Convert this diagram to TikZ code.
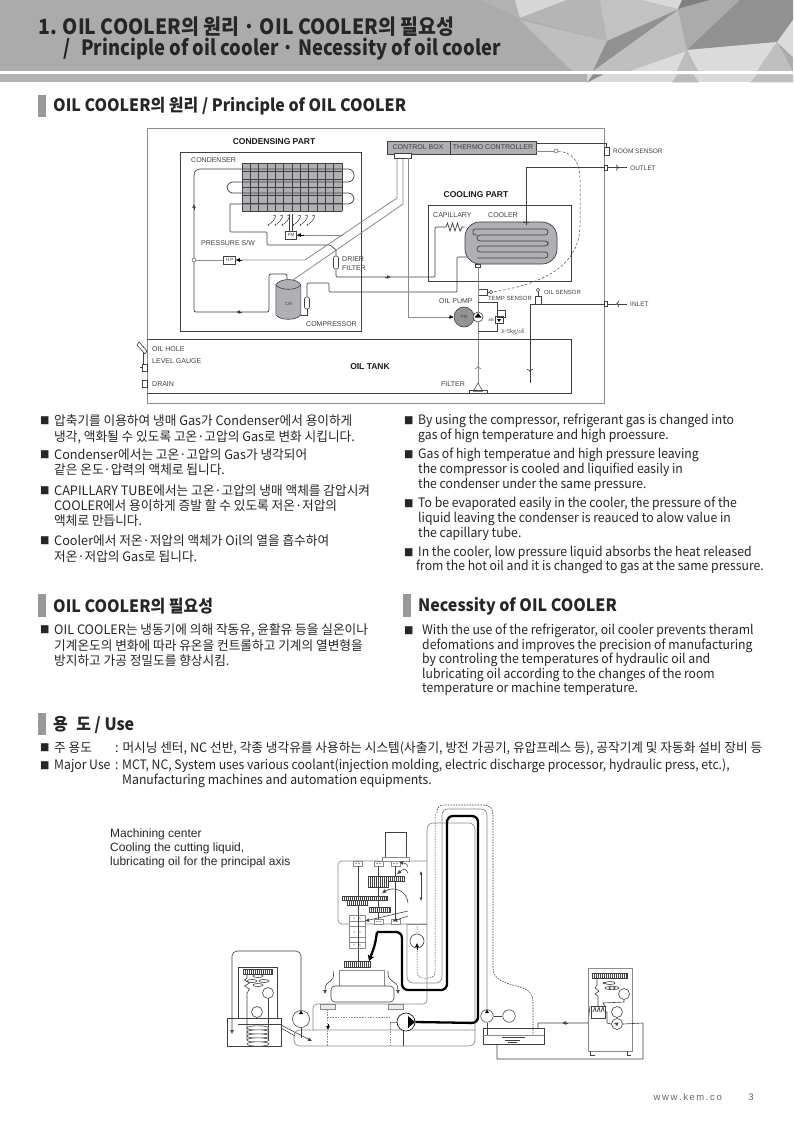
\documentclass[tikz,border=0pt]{standalone}
\usepackage{fontspec}
\setmainfont{Noto Sans CJK KR}[FakeStretch=0.94]
\newfontfamily\korfont{Noto Sans CJK KR}[FakeStretch=0.975]
\newfontfamily\headfont{Noto Sans CJK KR}[FakeStretch=0.94]
\newfontfamily\titlefont{Noto Sans CJK KR}[FakeStretch=0.925]
\newfontfamily\titlelatin{Noto Sans CJK KR}[FakeStretch=0.875]
\newfontfamily\labelfont{Liberation Sans}
\usepackage{tikz}
\usetikzlibrary{arrows.meta, shapes.geometric}

\definecolor{pipegray}{HTML}{8A8A8A}
\definecolor{linedark}{HTML}{404040}
\definecolor{fillgray}{HTML}{B0B0B4}

\tikzset{
    title/.style={font=\titlefont\bfseries\fontsize{21}{24}\selectfont, anchor=west, inner sep=0, text=black!85},
    title latin/.style={font=\titlelatin\bfseries\fontsize{21}{24}\selectfont, anchor=west, inner sep=0, text=black!85},
    head/.style={font=\headfont\bfseries\fontsize{17}{20}\selectfont, anchor=west, inner sep=0, text=black!85},
    body/.style={font=\fontsize{13}{15}\selectfont, anchor=west, inner sep=0, text=black!85},
    kbody/.style={font=\korfont\fontsize{13}{15}\selectfont, anchor=west, inner sep=0, text=black!85},
    bullet/.style={font=\fontsize{10}{12}\selectfont, anchor=west, inner sep=0, text=black!85},
    part/.style={font=\labelfont\bfseries\fontsize{8.5}{10}\selectfont, inner sep=0, text=black!90},
    lbl/.style={font=\labelfont\fontsize{7}{8}\selectfont, anchor=west, inner sep=0, text=linedark},
    tiny/.style={font=\labelfont\fontsize{4.5}{5}\selectfont, inner sep=0, text=linedark},
    bar/.style={fill=black!40, draw=none},
    pipe/.style={draw=linedark, line width=0.7pt},
    gline/.style={draw=pipegray, line width=0.8pt},
    part box/.style={draw=linedark, line width=0.7pt},
    tipfill/.style={-{Latex[length=4pt,width=4pt]}},
    tipopen/.style={-{To[length=3pt,width=6pt]}},
    dash line/.style={draw=linedark, dash pattern=on 2.5pt off 2pt, line width=0.5pt},
    gdash/.style={draw=pipegray, dash pattern=on 1.5pt off 1.2pt, line width=0.7pt},
    small box/.style={draw=linedark, fill=white, rectangle, inner sep=0, line width=0.6pt},
    fat/.style={draw=black, line width=2.3pt, rounded corners=6pt},
    mach/.style={draw=linedark, line width=0.6pt},
    mgray/.style={draw=pipegray, line width=0.7pt}
}

\newcommand{\finbar}[4]{%
    \draw[mach, fill=white] (#1,#2) rectangle (#3,#4);
    \pgfmathtruncatemacro{\fnext}{#1+2}
    \foreach \fx in {#1,\fnext,...,#3} \draw[mach, line width=0.4pt] (\fx,#2) -- (\fx,#4);
}
\newcommand{\bearing}[2]{%
    \draw[mgray, fill=white] (#1,#2) rectangle +(9,5);
    \fill[linedark] (#1+3,#2+2.5) circle (0.6);
    \fill[linedark] (#1+6,#2+2.5) circle (0.6);
}

\begin{document}
\begin{tikzpicture}[x=1pt, y=-1pt]
    \useasboundingbox (0,0) rectangle (793,1123);

    \fill[white] (0,0) rectangle (793,1123);
    \fill[black!33] (0,0) rectangle (793,71);
    \fill[black!30] (0,74.5) rectangle (587,82.5);
    \fill[black!15] (587,74.5) rectangle (793,82.5);
    \fill[black!27] (672,82.5) -- (677,74.5) -- (693,74.5) -- (699,82.5) -- cycle;
    \fill[black!25] (750,82.5) -- (757,74.5) -- (793,74.5) -- (793,82.5) -- cycle;
    \fill[black!45] (593,74.5) -- (587,82.5) -- (603,74.5) -- cycle;
    \fill[black!30] (480,0) -- (520,18) -- (515,0) -- cycle;
    \fill[black!16] (515,0) -- (520,18) -- (567,0) -- cycle;
    \fill[black!29] (520,18) -- (567,0) -- (600,0) -- (607,41) -- cycle;
    \fill[black!24] (600,0) -- (642,0) -- (678,9) -- (607,41) -- cycle;
    \fill[black!15] (642,0) -- (682,0) -- (678,9) -- cycle;
    \fill[black!50] (682,0) -- (710,0) -- (678,9) -- cycle;
    \fill[black!25] (520,20) -- (607,41) -- (593,71) -- (572,71) -- cycle;
    \fill[black!43] (607,41) -- (678,10) -- (593,71) -- cycle;
    \fill[black!25] (678,10) -- (687,50) -- (630,71) -- (593,71) -- cycle;
    \fill[black!14] (686,51) -- (630,71) -- (677,71) -- cycle;
    \fill[black!33] (678,9) -- (710,0) -- (740,0) -- (687,50) -- cycle;
    \fill[black!43] (740,0) -- (793,0) -- (793,20) -- (777,42) -- (687,50) -- cycle;
    \fill[black!14] (687,50) -- (777,42) -- (757,71) -- (698,71) -- cycle;
    \fill[black!26] (687,50) -- (698,71) -- (677,71) -- cycle;
    \fill[black!25] (777,42) -- (793,71) -- (757,71) -- cycle;
    \fill[black!14] (777,42) -- (793,20) -- (793,57) -- cycle;

    \node[title] (title1) at (38,27) {1. OIL COOLER의 원리 · OIL COOLER의 필요성};
    \node[title latin] (title2) at (63,49) {/};
    \node[title latin] (title3) at (81,49) {Principle of oil cooler · Necessity of oil cooler};

    \fill[bar] (38,95) rectangle (46,117);
    \node[head] (head1) at (53,106) {OIL COOLER의 원리 / Principle of OIL COOLER};

    \draw[draw=black!45, line width=0.7pt] (147,128) rectangle (604,403);

    \node[part] (condpart) at (274,142) {CONDENSING PART};
    \draw[part box] (180,152) rectangle (361,331);
    \node[lbl] (condlabel) at (191,160) {CONDENSER};
    \fill[fillgray] (242,163) rectangle (342,211);
    \foreach \gx in {0,...,12} \draw[linedark, line width=0.6pt] (242+\gx*8.33,163) -- (242+\gx*8.33,211);
    \foreach \gy in {0,...,6} \draw[linedark, line width=0.6pt] (242,163+\gy*8) -- (342,163+\gy*8);

    \node[small box, minimum width=11, minimum height=8] (fm) at (291,235) {};
    \node[tiny] (fmtext) at (291,235) {FM};
    \node[small box, minimum width=12, minimum height=8] (hp) at (229.5,260) {};
    \node[tiny] (hptext) at (229.5,260) {H.P};
    \node[small box, rounded corners=2pt, minimum width=5, minimum height=13] (drier) at (336,262.5) {};
    \node[small box, rounded corners=2pt, minimum width=5, minimum height=12] (accum) at (307,303) {};
    \node[draw=linedark, circle, fill=white, inner sep=0, minimum size=4] (junc) at (194,260) {};
    \node[lbl] (pswlabel) at (201,243) {PRESSURE S/W};
    \node[lbl] (drierlabel) at (342,259) {DRIER};
    \node[lbl] (filterlabel) at (342,268) {FILTER};
    \node[lbl] (complabel) at (306,324) {COMPRESSOR};

    \draw[pipe, rounded corners=6pt] (junc.north) -- (194,169) -- (354,169) -- (354,182) -- (227,182) -- (227,193) -- (354,193) -- (354,204) -- (230,204);
    \draw[pipe, rounded corners=1pt] (230,204) -- (230,232) -- (267,232) -- (267,245) -- (330,245) -- (336,250) -- (drier.north);
    \draw[pipe, rounded corners=2pt] (junc.south) -- (194,312) -- (269,312) -- (269,274) -- (287,274) -- (287,280);
    \draw[pipe, tipfill] (194,210) -- (194,204);
    \draw[pipe, tipfill] (242,312) -- (236,312);

    \draw[gline] (junc.east) -- (hp.west);
    \draw[gline] (hp.east) -- (305,260) -- (397,198) -- (397,158);
    \draw[gline] (293,280) -- (403,204) -- (403,158);
    \draw[gline] (fm.east) -- (343,235);
    \draw[draw=black, line width=0.7pt, tipfill] (304,235) -- (fm.east);
    \draw[draw=black, line width=0.7pt, tipfill] (242,260) -- (hp.east);
    \draw[mach] (289.5,214) -- (289.5,231) (292.5,214) -- (292.5,231);
    \foreach \bx in {273,280,287,298,305,312}
        \draw[linedark, line width=0.5pt] (\bx,216) .. controls +(5,-3) and +(5,-4) .. +(-3,8);
    \foreach \bx in {269,276,283,294,301,308}
        \draw[linedark, line width=1pt] (\bx,224) -- +(-1,1.5);

    \node[inner sep=0, minimum width=25, minimum height=40] (cm) at (288.5,300) {};
    \draw[linedark, fill=fillgray, line width=0.6pt] (cm.north west) ++(0,5) -- ++(0,30) .. controls +(4,6) and +(-4,6) .. ++(25,0) -- ++(0,-30) .. controls +(-4,-7) and +(4,-7) .. ++(-25,0) .. controls +(4,6) and +(-4,6) .. ++(25,0);
    \node[tiny] (cmtext) at (288.5,304) {CM};
    \draw[pipe] (301,315) -- (307,315) -- (accum.south);
    \draw[pipe, rounded corners=1pt] (accum.north) -- (307,283) -- (329,283) -- (329,292) -- (457,292) -- (457,257) -- (467,257);
    \draw[pipe, rounded corners=1pt] (drier.south) -- (336,277) -- (435,277) -- (435,227) -- (443,227);
    \draw[pipe, tipfill] (385,277) -- (391,277);

    \draw[draw=linedark, fill=fillgray, line width=0.7pt] (387,141) rectangle (536,154);
    \draw[draw=linedark, line width=0.5pt] (450,141) -- (450,154);
    \node[small box, minimum width=17, minimum height=5] (boxfoot) at (402.5,156) {};
    \node[lbl, anchor=center] (ctrllabel) at (418,147.5) {CONTROL BOX};
    \node[lbl, anchor=center] (thermolabel) at (493,147.5) {THERMO CONTROLLER};
    \draw[gline] (408,158) -- (408,317) -- (453,317);

    \node[small box, minimum width=5, minimum height=8] (roomsensor) at (606.5,151) {};
    \node[lbl, font=\labelfont\fontsize{6.5}{8}\selectfont] (roomlabel) at (613,151) {ROOM SENSOR};
    \draw[pipe] (536,143) -- (606.5,143) -- (roomsensor.north);
    \node[draw=linedark, circle, fill=white, inner sep=0, minimum size=4] (sensorA) at (556,151) {};
    \draw[gline] (536,151) -- (sensorA.west);
    \node[small box, minimum width=9, minimum height=6] (tempbox) at (482.5,292) {};
    \node[draw=linedark, circle, fill=white, inner sep=0, minimum size=3.5] (sensorB) at (491,292) {};
    \draw[mach] (tempbox.east) -- (sensorB.west);
    \draw[dash line] (sensorA.east) .. controls (572,153) and (580,160) .. (580,180) -- (580,225) .. controls (580,270) and (535,285) .. (sensorB.east);
    \node[lbl, font=\labelfont\fontsize{6}{7}\selectfont] (templabel) at (488,298) {TEMP SENSOR};

    \node[part] (coolpart) at (476,195) {COOLING PART};
    \draw[part box] (428,205) rectangle (571,281);
    \node[lbl] (caplabel) at (433,215) {CAPILLARY};
    \node[lbl] (coollabel) at (488,215) {COOLER};
    \node[draw=linedark, fill=fillgray, rounded corners=15pt, minimum width=92, minimum height=42, line width=0.7pt] (cooler) at (511,243) {};
    \draw[draw=linedark, line width=0.7pt, rounded corners=3pt] (478,229) -- (548,229) -- (548,235) -- (477,235) -- (477,241) -- (548,241) -- (548,246) -- (477,246) -- (477,252) -- (548,252) -- (548,258) -- (477,258);
    \draw[draw=linedark, line width=0.7pt, rounded corners=2pt] (478,229) -- (473,229) -- (473,235) -- (477,235);
    \draw[pipe] (443,227) -- (446,227) -- (447.5,223) -- (450,231) -- (452.5,223) -- (455,231) -- (457.5,223) -- (460,231) -- (462,227) -- (cooler.west |- 0,227);
    \draw[pipe] (526,222) -- (526,167) -- (604,167);
    \draw[mach] (523,222) -- (529,222) (526,219) -- (526,225);
    \node[small box, minimum width=5, minimum height=3] (coolfoot) at (478,265.5) {};

    \node[small box, minimum width=3, minimum height=5] (outport) at (605.5,167.5) {};
    \draw[pipe, tipopen] (outport.east) -- (619,167.5);
    \draw[pipe] (619,167.5) -- (627,167.5);
    \node[lbl, font=\labelfont\fontsize{6.5}{8}\selectfont] (outlabel) at (630,168) {OUTLET};

    \node[small box, minimum width=3, minimum height=5] (inport) at (605.5,304) {};
    \draw[pipe, tipopen] (627,304) -- (616,304);
    \draw[pipe] (616,304) -- (inport.east);
    \node[lbl, font=\labelfont\fontsize{6.5}{8}\selectfont] (inlabel) at (630,304.5) {INLET};

    \node[small box, minimum width=6, minimum height=8] (oilsensor) at (538,300) {};
    \node[draw=linedark, circle, fill=white, inner sep=0, minimum size=3.5] (oilcircle) at (538,290) {};
    \draw[mach] (oilcircle.south) -- (oilsensor.north);
    \node[lbl, font=\labelfont\fontsize{6}{7}\selectfont] (oillabel) at (544,292) {OIL SENSOR};
    \draw[pipe] (inport.west) -- (530,304) -- (530,383);
    \draw[pipe, tipopen] (530,366) -- (530,372);

    \node[lbl] (pumplabel) at (439,301) {OIL PUMP};
    \node[draw=linedark, circle, fill=black!42, minimum size=20, inner sep=0, line width=0.6pt] (pm) at (464,317) {};
    \node[tiny] (pmtext) at (464,317) {PM};
    \draw[draw=black, line width=0.7pt, tipfill] (449,317) -- (pm.west);
    \node[draw=linedark, circle, fill=white, minimum size=10, inner sep=0, line width=0.6pt] (oilpump) at (478,317) {};
    \fill[black] (478,313) -- (481.5,317.5) -- (474.5,317.5) -- cycle;
    \draw[gline] (coolfoot.south) -- (oilpump.north);
    \draw[gline] (oilpump.south) -- (478,385);
    \draw[gline, tipopen] (478,372) -- (478,366);
    \draw[mach] (478,302) -- (497,302) -- (497,310);
    \draw[mach] (478,331) -- (497,331) -- (497,323);
    \node[small box, minimum width=8, minimum height=7] (relief) at (499,320) {};
    \fill[black] (497,319) -- (501,319) -- (499,322) -- cycle;
    \draw[mach] (497,310) rectangle (505,317);
    \node[tiny, font=\labelfont\fontsize{4}{5}\selectfont] (abtext) at (491,320) {AB};
    \node[lbl, font=\korfont\fontsize{5.5}{6}\selectfont] (preslabel) at (501,332) {3\textasciitilde 5kg/㎠};

    \draw[part box] (147,339) -- (571,339) -- (571,393) -- (147,393);
    \node[part] (tanklabel) at (370,367) {OIL TANK};
    \node[lbl] (holelabel) at (152,349) {OIL HOLE};
    \node[lbl] (gaugelabel) at (152,361) {LEVEL GAUGE};
    \node[lbl] (drainlabel) at (152,384) {DRAIN};
    \node[lbl] (filtlabel) at (441,384) {FILTER};
    \draw[mach] (143,346) -- (143,364);
    \draw[mach, fill=white] (137,345) -- (139,342) -- (147,351) -- (145,354) -- cycle;
    \node[small box, minimum width=5, minimum height=7] (gauge) at (144.5,367.5) {};
    \draw[mach] (142,367.5) -- (140,367.5);
    \node[small box, minimum width=5, minimum height=7] (drain) at (144.5,384) {};
    \node[draw=linedark, regular polygon, regular polygon sides=3, fill=white, inner sep=0, minimum size=11, line width=0.5pt] (filter) at (478,388.5) {};
    \draw[mach] (469,390) -- (487,390) -- (487,393) -- (469,393) -- cycle;

    \node[bullet] (bl1) at (40,421) {■};
    \node[kbody] (a1) at (54,421) {압축기를 이용하여 냉매 Gas가 Condenser에서 용이하게};
    \node[kbody] (a2) at (54,437) {냉각, 액화될 수 있도록 고온·고압의 Gas로 변화 시킵니다.};
    \node[bullet] (bl2) at (40,455) {■};
    \node[kbody] (a3) at (54,455) {Condenser에서는 고온·고압의 Gas가 냉각되어};
    \node[kbody] (a4) at (54,470) {같은 온도·압력의 액체로 됩니다.};
    \node[bullet] (bl3) at (40,491) {■};
    \node[kbody] (a5) at (54,491) {CAPILLARY TUBE에서는 고온·고압의 냉매 액체를 감압시켜};
    \node[kbody] (a6) at (54,506) {COOLER에서 용이하게 증발 할 수 있도록 저온·저압의};
    \node[kbody] (a7) at (54,521) {액체로 만듭니다.};
    \node[bullet] (bl4) at (40,541) {■};
    \node[kbody] (a8) at (54,541) {Cooler에서 저온·저압의 액체가 Oil의 열을 흡수하여};
    \node[kbody] (a9) at (54,557) {저온·저압의 Gas로 됩니다.};

    \node[bullet] (br1) at (404,421) {■};
    \node[body] (b1) at (418,421) {By using the compressor, refrigerant gas is changed into};
    \node[body] (b2) at (418,436) {gas of hign temperature and high proessure.};
    \node[bullet] (br2) at (404,455) {■};
    \node[body] (b3) at (418,455) {Gas of high temperatue and high pressure leaving};
    \node[body] (b4) at (418,470) {the compressor is cooled  and liquified easily in};
    \node[body] (b5) at (418,485) {the condenser under the same pressure.};
    \node[bullet] (br3) at (404,504) {■};
    \node[body] (b6) at (418,504) {To be evaporated easily in the cooler, the pressure of the};
    \node[body] (b7) at (418,519) {liquid leaving the condenser is reauced to alow value in};
    \node[body] (b8) at (418,534) {the capillary tube.};
    \node[bullet] (br4) at (404,553) {■};
    \node[body] (b9) at (418,553) {In the cooler, low pressure liquid absorbs the heat released};
    \node[body] (b10) at (416,567) {from the hot oil and it is changed to gas at the same pressure.};

    \fill[bar] (38,594) rectangle (46,617);
    \node[head] (head2) at (53,606) {OIL COOLER의 필요성};
    \fill[bar] (403,594) rectangle (411,617);
    \node[head] (head3) at (418,606) {Necessity of  OIL COOLER};

    \node[bullet] (bn1) at (40,630) {■};
    \node[kbody] (c1) at (54,630) {OIL COOLER는 냉동기에 의해 작동유, 윤활유 등을 실온이나};
    \node[kbody] (c2) at (54,646) {기계온도의 변화에 따라 유온을 컨트롤하고 기계의 열변형을};
    \node[kbody] (c3) at (54,661) {방지하고 가공 정밀도를 향상시킴.};
    \node[bullet] (bn2) at (404,631) {■};
    \node[body] (d1) at (422,631) {With the use of the refrigerator, oil cooler prevents theraml};
    \node[body] (d2) at (422,646) {defomations and improves the precision of manufacturing};
    \node[body] (d3) at (422,660) {by controling the temperatures of hydraulic oil and};
    \node[body] (d4) at (422,675) {lubricating oil according to the changes of the room};
    \node[body] (d5) at (422,689) {temperature or machine temperature.};

    \fill[bar] (38,713) rectangle (46,735);
    \node[head] (head4) at (53,725) {용\,\,\,도 / Use};
    \node[bullet] (bu1) at (40,748) {■};
    \node[kbody] (u1) at (54,748) {주 용도};
    \node[kbody] (u2) at (115,748) {: 머시닝 센터, NC 선반, 각종 냉각유를 사용하는 시스템(사출기, 방전 가공기, 유압프레스 등), 공작기계 및 자동화 설비 장비 등};
    \node[bullet] (bu2) at (40,766) {■};
    \node[body] (u3) at (54,766) {Major Use};
    \node[body] (u4) at (115,766) {: MCT, NC, System uses various coolant(injection molding, electric discharge processor, hydraulic press, etc.),};
    \node[body] (u5) at (122,781) {Manufacturing machines and automation equipments.};

    \node[lbl, font=\labelfont\fontsize{12}{13}\selectfont, text=black!85] (mc1) at (110,834) {Machining center};
    \node[lbl, font=\labelfont\fontsize{12}{13}\selectfont, text=black!85] (mc2) at (110,848) {Cooling the cutting liquid,};
    \node[lbl, font=\labelfont\fontsize{12}{13}\selectfont, text=black!85] (mc3) at (110,862) {lubricating oil for the principal axis};

    \draw[mgray, rounded corners=4pt] (427,861) -- (338,861) -- (338,924) -- (427,924);
    \draw[mach] (385,832) rectangle (406,857);
    \draw[mgray, fill=white] (382,857) rectangle (409,861);
    \bearing{353}{861}
    \bearing{374}{861}
    \bearing{391}{861}
    \bearing{374}{919}
    \bearing{391}{919}
    \draw[mach] (358,866) -- (358,961) (378,866) -- (378,919) (395,866) -- (395,919);
    \finbar{368}{876}{388}{887}
    \finbar{388}{876}{404}{881}
    \finbar{342}{896}{387}{900}
    \finbar{347}{900}{367}{905}
    \finbar{369}{907}{390}{912}
    \draw[mgray, fill=white] (349,915) rectangle (365,948);
    \draw[mgray] (349,921) -- (365,921) (349,926) -- (365,926) (349,937) -- (365,937) (349,942) -- (365,942);
    \foreach \dy in {918,932,945} {
        \fill[linedark] (354,\dy) circle (0.6);
        \fill[linedark] (360,\dy) circle (0.6);
    }
    \draw[mach] (358,915) -- (358,948);
    \finbar{344}{961}{370}{967}

    \draw[mach, tipfill] (408,867) .. controls (407,864) .. (399,862);
    \draw[mach, tipfill] (408,873) .. controls (405,868) .. (397,874);
    \draw[mach, tipfill] (408,903) .. controls (407,890) and (393,886) .. (382,893);
    \draw[mach, tipfill] (408,916) -- (393,921);
    \draw[mach, tipfill] (408,911) -- (365,921);
    \draw[mach, {Latex[length=3.5pt,width=3pt]}-{Latex[length=3.5pt,width=3pt]}] (421,871) -- (421,901);

    \draw[mgray, rounded corners=6pt] (407,924) -- (407,983) -- (442,983) -- (442,809) -- (487,809) -- (487,1014);
    \draw[mgray, rounded corners=6pt] (427,861) -- (427,823) -- (475,823) -- (475,1046) -- (294,1046) -- (294,1030) -- (475,1030);
    \draw[mgray, rounded corners=4pt] (427,861) -- (427,1004) -- (313,1004) -- (313,1030);
    \draw[mgray] (407,924) -- (427,924);
    \draw[mach, rounded corners=6pt, line width=0.5pt, dash pattern=on 1.5pt off 1.2pt] (417,926) -- (417,978) -- (435,978) -- (435,813);
    \node[draw=linedark, circle, fill=white, minimum size=14, inner sep=0, line width=0.6pt] (headpump) at (417,941) {};
    \draw[draw=black, line width=0.5pt, tipfill] (417,950) -- (417,943);
    \draw[mach, dash pattern=on 1.5pt off 1.2pt] (437,813) .. controls (437,806) and (440,805) .. (445,805) -- (483,805) .. controls (490,805) and (493,808) .. (493,815) -- (493,968) .. controls (493,980) and (505,983) .. (520,987) .. controls (530,990) and (533,995) .. (533,1002) -- (533,1035);

    \draw[mgray, fill=white] (339,970) rectangle (384,986);
    \draw[mach, fill=white, rounded corners=4pt] (331,986) rectangle (394,1002);
    \draw[mgray, fill=black!8] (320,1004) rectangle (335,1009);
    \draw[mgray, fill=black!8] (388,1004) rectangle (403,1009);
    \draw[mach, tipfill] (333,971) .. controls (336,985) and (325,978) .. (325,994);
    \draw[mach, tipfill] (388,971) .. controls (387,985) and (398,978) .. (398,994);
    \draw[gdash] (327,1017) -- (390,1017);
    \draw[gdash] (327,1009) -- (327,1046);
    \draw[gdash] (390,1023) -- (390,1046);
    \draw[mgray] (390,1022) -- (398,1022);
    \draw[draw=black, line width=0.6pt, tipfill] (328,1024) -- (328,1030);
    \draw[mach] (403,1030) -- (403,1046);

    \node[draw=black, circle, fill=white, minimum size=18, inner sep=0, line width=0.6pt] (mainpump) at (406,1022) {};
    \fill[black] (415,1022) -- (408,1016) -- (408,1028) -- cycle;
    \draw[fat] (mainpump.east) -- (478,1023) -- (478,816) -- (447,816) -- (447,990) -- (402,990) -- (402,932) -- (377,932);
    \draw[draw=black, line width=2.3pt, -{Stealth[length=6pt,width=7pt]}] (377,932) .. controls (375,945) .. (369,961);

    \node[draw=linedark, circle, fill=white, minimum size=17, inner sep=0, line width=0.6pt] (coolpump) at (301,1019) {};
    \draw[mach, rounded corners=5pt, tipfill] (coolpump.north) -- (301,951) -- (232,951) -- (232,1034);
    \fill[black] (301,1010.5) -- (299,1014) -- (303,1014) -- cycle;
    \draw[mach] (coolpump.south) -- (301,1038);
    \draw[mach] (227,1018) rectangle (281,1046);
    \draw[mach] (238,1018) -- (238,967) -- (277,967) -- (277,1018);
    \finbar{243}{969}{272}{974}
    \draw[mach] (247,974) -- (247,978) -- (244.5,980) -- (249.5,983) -- (244.5,986) -- (249.5,989) -- (247,993) -- (247,1040);
    \node[draw=linedark, circle, fill=white, minimum size=11, inner sep=0, line width=0.6pt] (cond1) at (268,993) {};
    \node[draw=linedark, circle, fill=white, minimum size=11, inner sep=0, line width=0.6pt] (cond2) at (257,1012) {};
    \draw[mach] (cond1.south) -- (268,1040);
    \draw[mach] (258,976) ellipse (5 and 1.5) (252,981) ellipse (5 and 1.5) (264,981) ellipse (5 and 1.5) (258,985) ellipse (5 and 1.5);
    \draw[mach] (238,1024) -- (281,1024);
    \draw[mach, tipfill] (281,1025) -- (312,1041);
    \draw[mach] (281,1028) -- (295,1036);
    \foreach \cy in {1028,1032,1036,1040,1044}
        \draw[mach, fill=white] (258,\cy) ellipse (11 and 2.2);

    \node[draw=linedark, circle, fill=white, minimum size=12.5, inner sep=0, line width=0.6pt] (returnpump) at (487,1016) {};
    \node[draw=linedark, circle, fill=white, minimum size=12.5, inner sep=0, line width=0.6pt] (returnmotor) at (509,1016) {};
    \draw[mach] (returnpump.east) -- (returnmotor.west);
    \fill[black] (487,1009.5) -- (485,1013) -- (489,1013) -- cycle;
    \draw[mach] (483,1028) rectangle (544,1044);
    \draw[mgray] (483,1035) -- (544,1035);
    \draw[mach] (returnpump.south) -- (487,1035);
    \draw[mach] (502,1037) -- (525,1037) (505,1040) -- (520,1040) (508,1042) -- (517,1042);
    \draw[mach] (538,1028) -- (538,1023) -- (588,1023) -- (590,1006);
    \draw[mach, tipfill] (568,1023) -- (562,1023);

    \draw[mgray] (588,968) rectangle (632,1051);
    \finbar{592}{973}{627}{978}
    \draw[mach] (597,978) -- (597,985) -- (595,988) -- (599,991) -- (595,994) -- (598,996) -- (598,1006);
    \draw[mach] (610,983) ellipse (5 and 1.5) (604,983) ellipse (1 and 1) (614,988) ellipse (5 and 1.5) (610,988) ellipse (5 and 1.5);
    \node[draw=linedark, circle, fill=white, minimum size=11, inner sep=0, line width=0.6pt] (unit1) at (624,994) {};
    \node[draw=linedark, circle, fill=white, minimum size=11, inner sep=0, line width=0.6pt] (unit2) at (617,1012) {};
    \node[draw=linedark, circle, fill=white, minimum size=11, inner sep=0, line width=0.6pt] (unit3) at (617,1024) {};
    \draw[mach, fill=white] (591,1006) rectangle (605,1018);
    \foreach \zx in {593,597,601}
        \draw[mach, line width=0.7pt] (\zx,1012) -- (\zx+2,1007) -- (\zx+3,1012);
    \draw[mach] (605,1006) -- (603,1003) -- (624,1002) -- (unit1.south);
    \draw[mach] (605,1012) -- (607,1012) -- (607,1023) -- (unit3.west);
    \draw[mach, tipfill] (617,1024) -- (614,1023);
    \draw[mach] (unit3.east) -- (643,1023) -- (643,1059) -- (497,1059) -- (497,1044);
    \draw[mach] (590,1051) -- (590,1055) -- (595,1055) (627,1051) -- (627,1055) -- (631,1055);

    \node[font=\labelfont\fontsize{9.5}{11}\selectfont, inner sep=0, anchor=east, text=black!60] (web) at (722,1097) {w\,w\,w\,.\,k\,e\,m\,.\,c\,o};
    \node[font=\labelfont\fontsize{9.5}{11}\selectfont, inner sep=0, anchor=center, text=black!60] (pageno) at (751,1097) {3};
\end{tikzpicture}
\end{document}
